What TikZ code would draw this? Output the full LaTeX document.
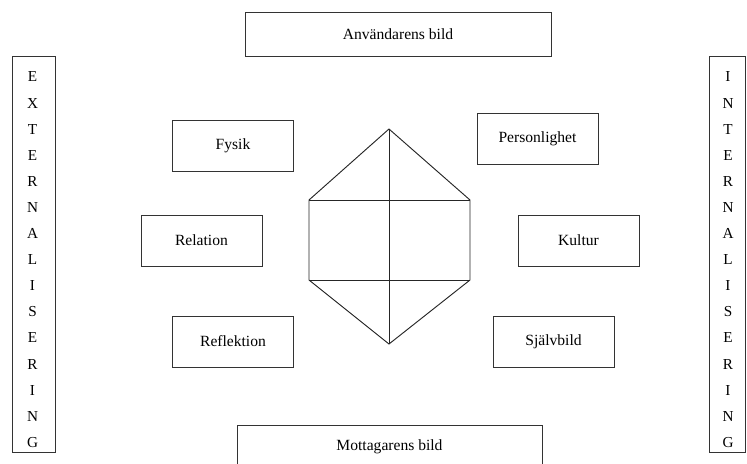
\documentclass[tikz,border=0pt]{standalone}
\usepackage{fontspec}
\setmainfont{Liberation Serif}
\usepackage{tikz}

\begin{document}
\begin{tikzpicture}[x=0.03cm,y=-0.03cm,
    box/.style={draw=black!80,line width=0.8pt,inner sep=0pt,
      font=\fontsize{13.3}{16}\selectfont},
    smallbox/.style={box,minimum width=3.63cm,minimum height=1.53cm},
    letter/.style={inner sep=0pt,font=\fontsize{13}{15}\selectfont}]
  \useasboundingbox (0,0) rectangle (747,463);
  % frames
  \node [box,minimum width=9.18cm,minimum height=1.32cm] (anv) at (398,34) {Användarens bild};
  \node [box,minimum width=9.15cm,minimum height=1.32cm] (mot) at (389.5,447) {Mottagarens bild};
  \node [box,minimum width=1.29cm,minimum height=11.88cm] (ext) at (33.5,254) {};
  \node [box,minimum width=1.08cm,minimum height=11.88cm] (int) at (727,254) {};
  \foreach \ch [count=\i] in {E,X,T,E,R,N,A,L,I,S,E,R,I,N,G}
    \node [letter] (ext-\i) at (32.5,{77+26.1*(\i-1)}) {\ch};
  \foreach \ch [count=\i] in {I,N,T,E,R,N,A,L,I,S,E,R,I,N,G}
    \node [letter] (int-\i) at (728,{77+26.1*(\i-1)}) {\ch};
  % aspects
  \node [smallbox] (fysik) at (233,146) {Fysik};
  \node [smallbox] (relation) at (201.5,240.5) {Relation};
  \node [smallbox] (reflektion) at (233,341.5) {Reflektion};
  \node [smallbox] (person) at (537.5,138.5) {Personlighet};
  \node [smallbox] (kultur) at (578.5,240.5) {Kultur};
  \node [smallbox] (sjalv) at (553.5,341.5) {Självbild};
  % hexagon
  \coordinate (top) at (389,129);
  \coordinate (bot) at (389,344);
  \coordinate (tl) at (309,200);
  \coordinate (tr) at (470,200);
  \coordinate (bl) at (309,280);
  \coordinate (br) at (470,280);
  \draw [black!85,line width=0.8pt] (top) -- (tr) -- (br) -- (bot) -- (bl) -- (tl) -- cycle;
  \draw [black!85,line width=0.8pt] (tl) -- (tr) (bl) -- (br) (top) -- (bot);
\end{tikzpicture}
\end{document}
